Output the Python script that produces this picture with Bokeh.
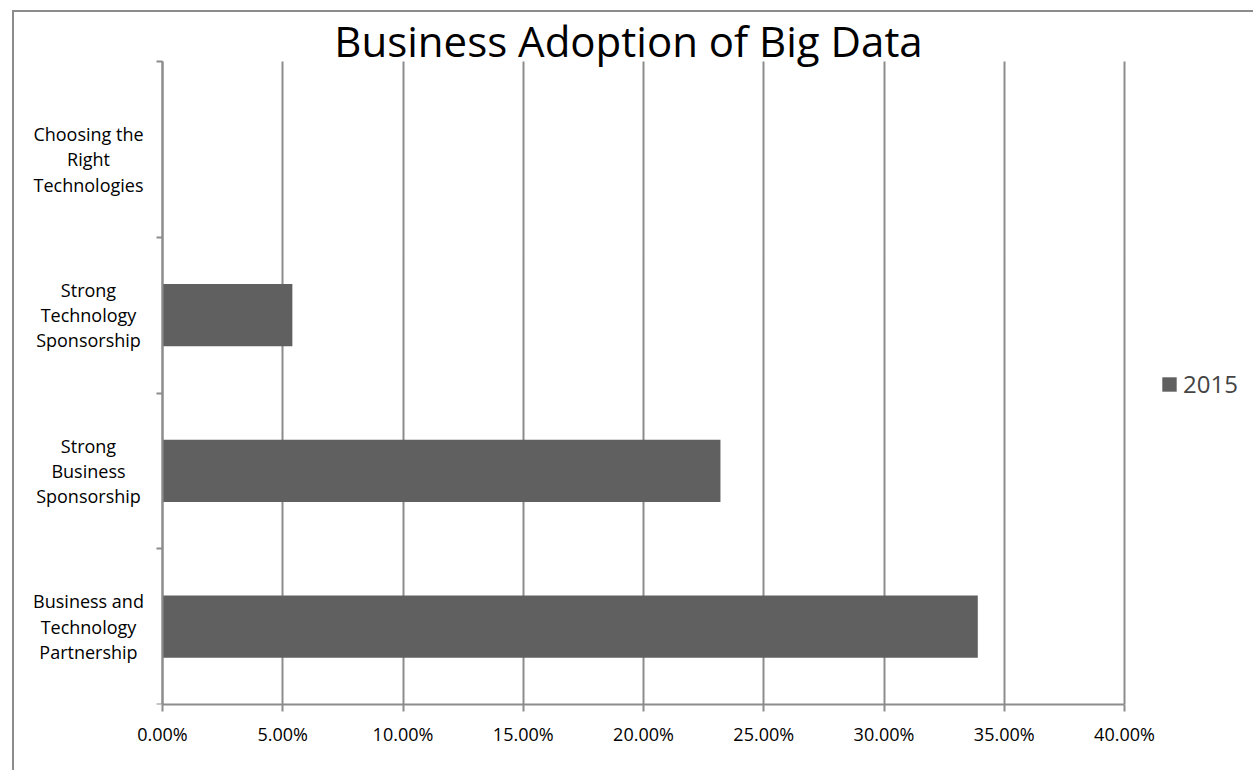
from bokeh.plotting import figure
from bokeh.models import (ColumnDataSource, FixedTicker, NumeralTickFormatter,
                          Legend, LegendItem, Label)
from bokeh.core.properties import value
from bokeh.embed import file_html
from bokeh.resources import INLINE

# ---------------- data ----------------
categories = [
    "Business and\nTechnology\nPartnership",
    "Strong\nBusiness\nSponsorship",
    "Strong\nTechnology\nSponsorship",
    "Choosing the\nRight\nTechnologies",
]
values_2015 = [0.339, 0.232, 0.054, 0.0]
series_name = "2015"
x_ticks = [0.0, 0.05, 0.10, 0.15, 0.20, 0.25, 0.30, 0.35, 0.40]
chart_title = "Business Adoption of Big Data"

# ---------------- geometry (window pixels) ----------------
FIG_L, FIG_T = 14, 12          # figure content origin in the window
W, H = 1241, 760               # figure size
X0_PX, X40_PX = 162, 1124      # pixel of 0% and 40%
AXIS_TOP_PX, AXIS_BOT_PX = 61, 704
CAT_STEP = 155.75              # pixels per category

ppu = (X40_PX - X0_PX) / 0.40
x_start = (FIG_L - X0_PX) / ppu
x_end = x_start + W / ppu
y_start = -0.5
y_end = y_start + (AXIS_BOT_PX - FIG_T) / CAT_STEP
y_axis_top = y_start + (AXIS_BOT_PX - AXIS_TOP_PX) / CAT_STEP


def fx(px):
    return (px - X0_PX) / ppu


def fy(py):
    return y_start + (AXIS_BOT_PX - py) / CAT_STEP


GRID = "#8c8c8c"
BAR = "#606060"
FONT = "Open Sans"

p = figure(width=W, height=H, x_range=(x_start, x_end), y_range=(y_start, y_end),
           output_backend="svg", toolbar_location=None,
           min_border_left=0, min_border_right=0, min_border_top=0,
           min_border_bottom=FIG_T + H - AXIS_BOT_PX,
           margin=(10, 0, 0, 12))
p.styles = {"border-left": "2px solid #8c8c8c", "border-top": "2px solid #8c8c8c"}
p.outline_line_color = None
p.background_fill_color = "white"
p.border_fill_color = "white"

src = ColumnDataSource(dict(y=list(range(len(categories))), right=values_2015,
                            label=categories))

bars = p.hbar(y="y", right="right", left=0, height=0.4, source=src,
              fill_color=BAR, line_color=None)

p.text(x=0, y="y", text="label", source=src, x_offset=-74,
       text_align="center", text_baseline="middle",
       text_font=value(FONT), text_font_size="18px", text_line_height=1.05,
       text_color="black")

# x axis
xa = p.xaxis[0]
xa.ticker = FixedTicker(ticks=x_ticks)
xa.formatter = NumeralTickFormatter(format="0.00%")
xa.bounds = (0, 0.40)
xa.major_tick_out = 7
xa.major_tick_in = 0
xa.minor_tick_out = 0
xa.minor_tick_in = 0
xa.axis_line_color = GRID
xa.axis_line_width = 2
xa.major_tick_line_color = GRID
xa.major_tick_line_width = 2
xa.major_label_text_font = FONT
xa.major_label_text_font_size = "18px"
xa.major_label_text_color = "black"
xa.major_label_standoff = 10

# y axis (ticks at category boundaries, labels drawn as text above)
ya = p.yaxis[0]
ya.fixed_location = 0
y_bound_ticks = [-0.5, 0.5, 1.5, 2.5, y_axis_top]
ya.ticker = FixedTicker(ticks=y_bound_ticks)
ya.major_label_overrides = {t: "" for t in y_bound_ticks}
ya.bounds = (y_start, y_axis_top)
ya.major_tick_out = 6
ya.major_tick_in = 0
ya.minor_tick_out = 0
ya.minor_tick_in = 0
ya.axis_line_color = GRID
ya.axis_line_width = 2
ya.major_tick_line_color = GRID
ya.major_tick_line_width = 2

# grid
p.ygrid.visible = False
g = p.xgrid[0]
g.ticker = FixedTicker(ticks=x_ticks)
g.bounds = (0, 0.40)
g.cross_bounds = (y_start, y_axis_top)
g.grid_line_color = GRID
g.grid_line_width = 2

# title
p.add_layout(Label(x=fx(628), y=fy(40), text=chart_title, text_align="center",
                   text_baseline="alphabetic", text_font=FONT,
                   text_font_size="42px", text_color="black"))

# legend
legend = Legend(items=[LegendItem(label=series_name, renderers=[bars])],
                location=(1146, 304), glyph_width=18, glyph_height=18,
                label_standoff=5, label_text_font=FONT,
                label_text_font_size="24px", padding=0, margin=0,
                border_line_color=None, background_fill_alpha=0)
p.add_layout(legend)

open("out.html", "w").write(file_html(p, INLINE))
